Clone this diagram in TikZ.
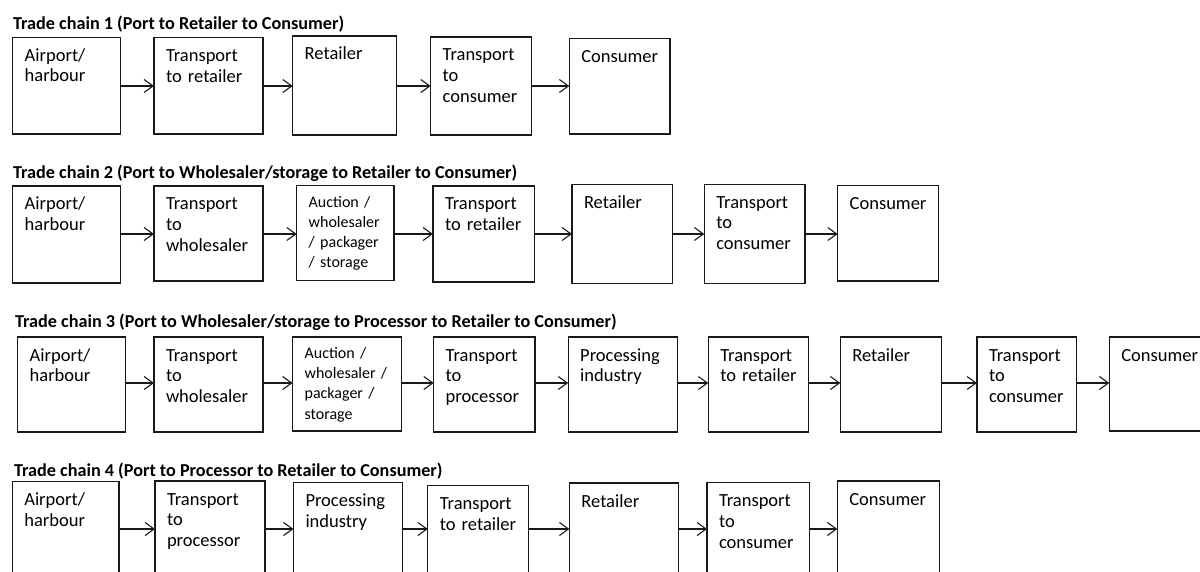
\documentclass[tikz,border=0pt]{standalone}
\usepackage{fontspec}
\setmainfont{Carlito}
\usetikzlibrary{arrows.meta,calc}
\tikzset{
  boxst/.style={draw=black!90, line width=1.1pt, rectangle, inner sep=0pt, outer sep=0pt},
  txt/.style={inner sep=0pt, outer sep=0pt, text width=110pt, align=left, font=\fontsize{18.5pt}{20.7pt}\selectfont},
  smalltxt/.style={inner sep=0pt, outer sep=0pt, text width=110pt, align=left, font=\fontsize{16pt}{20.2pt}\selectfont},
  ttl/.style={inner sep=0pt, outer sep=0pt, anchor=base west, font=\fontsize{18.2pt}{20pt}\selectfont\bfseries},
  arr/.style={line width=1.1pt, draw=black!90, -{Straight Barb[length=9pt,width=13pt,line width=1.1pt]}}
}
\newcommand\tradebox[7][txt]{%
  \node[boxst, anchor=north west, minimum width=#5-#3, minimum height=#6-#4] (#2) at (#3,#4) {};
  \node[#1, anchor=base west] (#2t) at ($(#3,#4)+(12,24)$) {#7};
}
\newcommand\smallbox[6]{%
  \node[boxst, anchor=north west, minimum width=#4-#2, minimum height=#5-#3] (#1) at (#2,#3) {};
  \node[smalltxt, anchor=base west] (#1t) at ($(#2,#3)+(12,21.5)$) {#6};
}
\begin{document}
\begin{tikzpicture}[x=1pt,y=-1pt]
\useasboundingbox (0,0) rectangle (1200,572);
\clip (0,0) rectangle (1200,572);
\fill[white] (0,0) rectangle (1200,572);

% titles
\node[ttl] (t1) at (13,29.3) {Trade chain 1 (Port to Retailer to Consumer)};
\node[ttl] (t2) at (13,178.3) {Trade chain 2 (Port to Wholesaler/storage to Retailer to Consumer)};
\node[ttl] (t3) at (15,327) {Trade chain 3 (Port to Wholesaler/storage to Processor to Retailer to Consumer)};
\node[ttl] (t4) at (14,476.5) {Trade chain 4 (Port to Processor to Retailer to Consumer)};

% chain 1
\coordinate (r1) at (0,86);
\tradebox{c11}{12.7}{37.3}{120.7}{134}{Airport/\\harbour}
\tradebox{c12}{154}{37.5}{263}{134}{Transport\\to retailer}
\tradebox{c13}{292.7}{36}{396.4}{135}{Retailer}
\tradebox{c14}{430.7}{37}{531.3}{135}{Transport\\to\\consumer}
\tradebox{c15}{569.3}{38.3}{670}{134}{Consumer}
\draw[arr] (c11.east |- r1) -- (c12.west |- r1);
\draw[arr] (c12.east |- r1) -- (c13.west |- r1);
\draw[arr] (c13.east |- r1) -- (c14.west |- r1);
\draw[arr] (c14.east |- r1) -- (c15.west |- r1);

% chain 2
\coordinate (r2) at (0,234);
\tradebox{c21}{12.7}{186}{120.7}{283}{Airport/\\harbour}
\tradebox{c22}{154}{186}{263}{281}{Transport\\to\\wholesaler}
\smallbox{c23}{296.7}{185.7}{394}{280.7}{Auction /\\wholesaler\\/ packager\\/ storage}
\tradebox{c24}{433}{186}{534.8}{282}{Transport\\to retailer}
\tradebox{c25}{572}{184.3}{672.3}{283.7}{Retailer}
\tradebox{c26}{704.3}{184.3}{805}{283.7}{Transport\\to\\consumer}
\tradebox{c27}{837.7}{185.7}{938.3}{281}{Consumer}
\draw[arr] (c21.east |- r2) -- (c22.west |- r2);
\draw[arr] (c22.east |- r2) -- (c23.west |- r2);
\draw[arr] (c23.east |- r2) -- (c24.west |- r2);
\draw[arr] (c24.east |- r2) -- (c25.west |- r2);
\draw[arr] (c25.east |- r2) -- (c26.west |- r2);
\draw[arr] (c26.east |- r2) -- (c27.west |- r2);

% chain 3
\coordinate (r3) at (0,383);
\tradebox{c31}{17.7}{337}{125.7}{432}{Airport/\\harbour}
\tradebox{c32}{154}{337}{263}{432}{Transport\\to\\wholesaler}
\smallbox{c33}{292.6}{337}{401.3}{431}{Auction /\\wholesaler /\\packager /\\storage}
\tradebox{c34}{433.7}{337}{535}{432}{Transport\\to\\processor}
\tradebox{c35}{568.2}{337}{677.7}{432}{Processing\\industry}
\tradebox{c36}{708.3}{337}{808.6}{432}{Transport\\to retailer}
\tradebox{c37}{840.3}{337}{941.8}{432}{Retailer}
\tradebox{c38}{977}{337}{1076.8}{432}{Transport\\to\\consumer}
\tradebox{c39}{1109.3}{337}{1212}{431}{Consumer}
\draw[arr] (c31.east |- r3) -- (c32.west |- r3);
\draw[arr] (c32.east |- r3) -- (c33.west |- r3);
\draw[arr] (c33.east |- r3) -- (c34.west |- r3);
\draw[arr] (c34.east |- r3) -- (c35.west |- r3);
\draw[arr] (c35.east |- r3) -- (c36.west |- r3);
\draw[arr] (c36.east |- r3) -- (c37.west |- r3);
\draw[arr] (c37.east |- r3) -- (c38.west |- r3);
\draw[arr] (c38.east |- r3) -- (c39.west |- r3);

% chain 4
\coordinate (r4) at (0,529);
\tradebox{c41}{12.3}{481.7}{119}{590}{Airport/\\harbour}
\tradebox{c42}{155}{481}{265}{590}{Transport\\to\\processor}
\tradebox{c43}{293.5}{482.7}{402.5}{590}{Processing\\industry}
\tradebox{c44}{427.8}{485.7}{528.3}{590}{Transport\\to retailer}
\tradebox{c45}{569.4}{483}{678.5}{590}{Retailer}
\tradebox{c46}{707}{482.7}{809.7}{590}{Transport\\to\\consumer}
\tradebox{c47}{837.3}{481}{939.5}{590}{Consumer}
\draw[arr] (c41.east |- r4) -- (c42.west |- r4);
\draw[arr] (c42.east |- r4) -- (c43.west |- r4);
\draw[arr] (c43.east |- r4) -- (c44.west |- r4);
\draw[arr] (c44.east |- r4) -- (c45.west |- r4);
\draw[arr] (c45.east |- r4) -- (c46.west |- r4);
\draw[arr] (c46.east |- r4) -- (c47.west |- r4);
\end{tikzpicture}
\end{document}
